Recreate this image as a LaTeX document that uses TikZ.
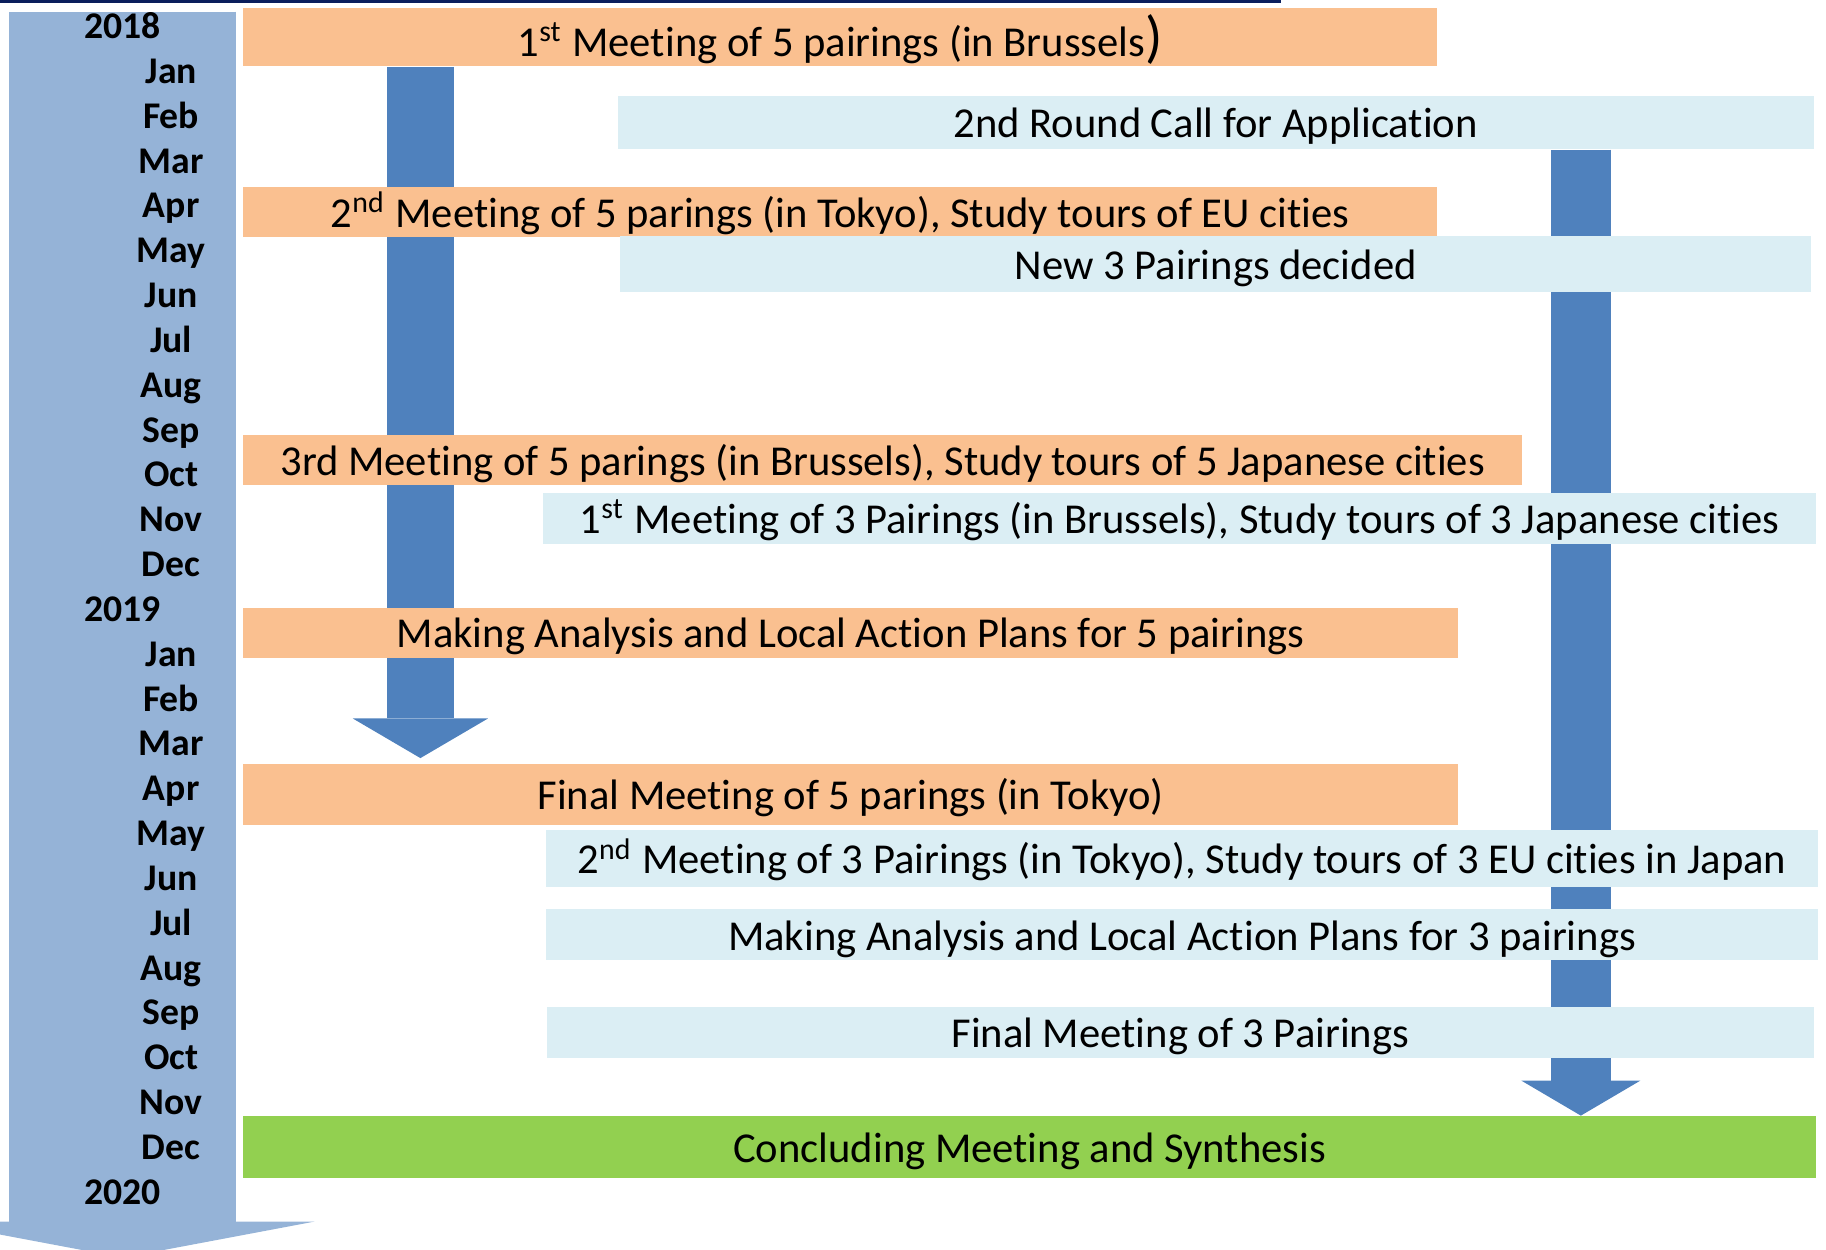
\documentclass[tikz,border=0pt]{standalone}
\usepackage{fontspec}
\setmainfont{Carlito}[Ligatures={NoCommon,TeX}]
\usetikzlibrary{arrows.meta, calc, positioning, backgrounds}
\definecolor{barorange}{RGB}{250,192,144}
\definecolor{barlight}{RGB}{219,238,244}
\definecolor{bargreen}{RGB}{146,208,80}
\definecolor{timeblue}{RGB}{149,179,215}
\definecolor{arrowblue}{RGB}{79,129,189}
\definecolor{topnavy}{RGB}{10,30,92}

\begin{document}
\begin{tikzpicture}[
    x=0.01cm, y=-0.01cm,
    bar/.style={rectangle, inner sep=0pt, anchor=north west, text height=0.75em, text depth=0pt, font=\fontsize{10.4}{12}\selectfont},
    obar/.style={bar, fill=barorange},
    lbar/.style={bar, fill=barlight},
    gbar/.style={bar, fill=bargreen},
    month/.style={inner sep=0pt, text height=0.63em, text depth=0pt, font=\bfseries\fontsize{9.2}{10}\selectfont},
    timearrow/.style={draw=timeblue, line width=1.95cm, -{Triangle[width=3.29cm, length=0.31cm, line width=0pt]}},
    bigarrow/.style={draw=arrowblue, line width=0.57cm, -{Triangle[width=1.16cm, length=0.34cm, line width=0pt]}},
    smallarrow/.style={draw=arrowblue, line width=0.51cm, -{Triangle[width=1.02cm, length=0.30cm, line width=0pt]}}
]
\useasboundingbox (0,0) rectangle (1568,1073);

% Rule at the top
\fill[topnavy] (0,0) rectangle (1100,2.5);

% Activities of the 5 pairings
\node[obar, minimum width=10.25cm, minimum height=0.50cm, text height=0.95em] (meet1five) at (208,6) {1\textsuperscript{st} Meeting of 5 pairings (in Brussels{\fontsize{14}{14}\selectfont )}};
\node[obar, minimum width=10.25cm, minimum height=0.43cm] (meet2five) at (208,160) {2\textsuperscript{nd} Meeting of 5 parings (in Tokyo), Study tours of EU cities};
\node[obar, minimum width=10.98cm, minimum height=0.43cm] (meet3five) at (208,373) {3rd Meeting of 5 parings (in Brussels), Study tours of 5 Japanese cities};
\node[obar, minimum width=10.43cm, minimum height=0.43cm] (plansfive) at (208,521) {Making Analysis and Local Action Plans for 5 pairings};
\node[obar, minimum width=10.43cm, minimum height=0.53cm] (finalfive) at (208,655) {Final Meeting of 5 parings (in Tokyo)};

% Activities of the 3 new pairings
\node[lbar, minimum width=10.26cm, minimum height=0.45cm] (callsecond) at (530,82) {2nd Round Call for Application};
\node[lbar, minimum width=10.22cm, minimum height=0.48cm] (newthree) at (532,202) {New 3 Pairings decided};
\node[lbar, minimum width=10.92cm, minimum height=0.43cm] (meet1three) at (466,423) {1\textsuperscript{st} Meeting of 3 Pairings (in Brussels), Study tours of 3 Japanese cities};
\node[lbar, minimum width=10.92cm, minimum height=0.49cm] (meet2three) at (468,712) {2\textsuperscript{nd} Meeting of 3 Pairings (in Tokyo), Study tours of 3 EU cities in Japan};
\node[lbar, minimum width=10.92cm, minimum height=0.44cm] (plansthree) at (468,780) {Making Analysis and Local Action Plans for 3 pairings};
\node[lbar, minimum width=10.87cm, minimum height=0.44cm] (finalthree) at (469,864) {Final Meeting of 3 Pairings};

% Conclusion
\node[gbar, minimum width=13.50cm, minimum height=0.53cm] (concluding) at (208,958) {Concluding Meeting and Synthesis};

% Arrows behind the bars
\coordinate (lx) at (361,0);
\coordinate (rx) at (1357.5,0);
\coordinate (tltop) at (105.5,10);
\coordinate (tltip) at (105.5,1080);
\begin{scope}[on background layer]
\draw[timearrow] (tltop) -- (tltip);
\draw[bigarrow, shorten >=0.04cm] (meet1five.south -| lx) -- (finalfive.north -| lx);
\draw[smallarrow] (callsecond.south -| rx) -- (concluding.north -| rx);
\end{scope}

% Time scale
\node[month] (y2018) at (105,22) {2018};
\node[month] (y2019) at (105,522.5) {2019};
\node[month] (y2020) at (105,1023) {2020};
\foreach \m [count=\k] in {Jan,Feb,Mar,Apr,May,Jun,Jul,Aug,Sep,Oct,Nov,Dec} {
  \node[month] (a\k) at (147,{22+38.5*\k}) {\m};
  \node[month] (b\k) at (147,{522.5+38.5*\k}) {\m};
}

\end{tikzpicture}
\end{document}
